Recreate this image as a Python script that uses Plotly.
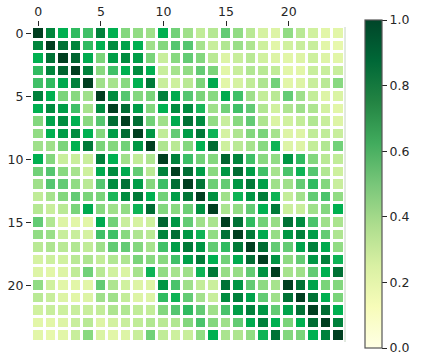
import numpy as np
import plotly.graph_objects as go

upper_rows = [
    [1,.87,.72,.65,.62,.88,.72,.48,.45,.42,.72,.52,.42,.33,.36,.55,.45,.35,.25,.22,.45,.35,.27,.2,.2],
    [1,.92,.87,.65,.72,.85,.78,.72,.42,.48,.58,.58,.4,.3,.37,.43,.38,.28,.2,.27,.3,.3,.2,.18],
    [1,.95,.75,.5,.8,.85,.8,.5,.3,.47,.55,.48,.35,.22,.3,.35,.27,.22,.2,.22,.28,.22,.2],
    [1,.88,.47,.62,.72,.85,.72,.3,.4,.45,.55,.5,.2,.3,.37,.35,.33,.2,.2,.3,.3,.3],
    [1,.42,.4,.47,.72,.9,.3,.28,.35,.5,.75,.2,.25,.33,.38,.52,.2,.22,.3,.35,.47],
    [1,.85,.58,.48,.5,.88,.75,.58,.5,.47,.75,.62,.42,.32,.35,.55,.42,.32,.22,.23],
    [1,.93,.8,.48,.72,.85,.85,.68,.42,.52,.62,.55,.37,.27,.38,.42,.38,.26,.2],
    [1,.93,.52,.42,.75,.92,.85,.45,.3,.47,.55,.38,.23,.27,.32,.37,.3,.22],
    [1,.82,.33,.55,.8,.9,.7,.25,.38,.48,.5,.4,.22,.22,.33,.33,.3],
    [1,.38,.35,.48,.72,.93,.28,.35,.4,.47,.7,.22,.22,.32,.37,.52],
    [1,.88,.63,.52,.48,.95,.87,.62,.47,.45,.82,.65,.48,.35,.33],
    [1,.93,.8,.47,.82,.93,.8,.62,.4,.6,.7,.58,.37,.28],
    [1,.91,.53,.55,.82,.9,.79,.42,.42,.55,.65,.48,.3],
    [1,.84,.42,.7,.82,.89,.7,.32,.41,.55,.6,.45],
    [1,.39,.45,.55,.72,.9,.29,.3,.42,.48,.72],
    [1,.92,.65,.52,.44,.92,.85,.6,.42,.39],
    [1,.9,.75,.44,.82,.88,.8,.55,.38],
    [1,.93,.55,.55,.78,.88,.75,.45],
    [1,.83,.46,.55,.82,.88,.7],
    [1,.4,.42,.55,.72,.92],
    [1,.92,.78,.5,.48],
    [1,.92,.72,.5],
    [1,.93,.72],
    [1,.88],
    [1],
]
tick_x = [0, 5, 10, 15, 20]
tick_y = [0, 5, 10, 15, 20]
bar_ticks = [0, 0.2, 0.4, 0.6, 0.8, 1.0]
cell_scale = [[0,"#ffffe5"],[.12,"#f7fcb9"],[.2,"#e2f6a8"],[.33,"#c0ec98"],[.42,"#9fe08a"],[.5,"#7ad47a"],
              [.58,"#55c670"],[.65,"#30bb60"],[.72,"#00b050"],[.78,"#00a34b"],[.84,"#009040"],[.9,"#007a38"],
              [.95,"#006530"],[1,"#003f20"]]
bar_scale = [[0,"#ffffe5"],[.125,"#f7fcb9"],[.25,"#d9f0a3"],[.375,"#addd8e"],[.5,"#78c679"],
             [.625,"#41ab5d"],[.75,"#238443"],[.875,"#006837"],[1,"#004529"]]

n = len(upper_rows)
z = np.zeros((n, n))
for i, row in enumerate(upper_rows):
    for k, v in enumerate(row):
        z[i, i + k] = v
        z[i + k, i] = v

W, H = 423, 363
TXT = "#262626"
FONT = "DejaVu Sans"
L, T, PW, PH = 32, 27, 315, 315
fig = go.Figure()
fig.add_trace(go.Heatmap(z=z.tolist(), colorscale=cell_scale, zmin=0, zmax=1, xgap=3, ygap=3, showscale=False))
# Off-range trace: only supplies the colorbar, whose scale differs from the cells.
fig.add_trace(go.Heatmap(z=[[0, 1]], x=[-100, -99], y=[-100], colorscale=bar_scale, zmin=0, zmax=1, showscale=True,
    hoverinfo="skip",
    colorbar=dict(x=(367-L)/PW, xanchor="left", y=1+(T-20)/PH, yanchor="top",
                  lenmode="fraction", len=327.5/PH, thickness=17, thicknessmode="pixels", xpad=0, ypad=0,
                  outlinewidth=1.2, outlinecolor="#555555", tickvals=bar_ticks, ticktext=["0.0","0.2","0.4","0.6","0.8","1.0"],
                  ticks="outside", ticklen=5, tickwidth=1, tickcolor=TXT, tickfont=dict(family=FONT, size=12.5, color=TXT))))
fig.update_layout(template="none", width=W, height=H, autosize=False, margin=dict(l=L, r=W-L-PW, t=T, b=H-T-PH),
                  paper_bgcolor="white", plot_bgcolor="white", showlegend=False, font=dict(family=FONT, color=TXT),
                  shapes=[dict(type="line", xref="x domain", yref="y domain", x0=1, x1=1, y0=0, y1=1,
                               line=dict(color="#c4d4c0", width=1))])
fig.update_xaxes(automargin=False, side="top", range=[-0.5, n-0.5], tickvals=tick_x, ticks="outside", ticklen=5, tickwidth=1, tickcolor=TXT,
                 showgrid=False, zeroline=False, showline=False, tickfont=dict(family=FONT, size=12.5, color=TXT))
fig.update_yaxes(automargin=False, range=[n-0.5, -0.5], tickvals=tick_y, ticks="outside", ticklen=5, tickwidth=1, tickcolor=TXT,
                 showgrid=False, zeroline=False, showline=False, tickfont=dict(family=FONT, size=12.5, color=TXT))
fig.write_html("out.html", config={"displayModeBar": False}, post_script="document.body.style.margin='0';")
